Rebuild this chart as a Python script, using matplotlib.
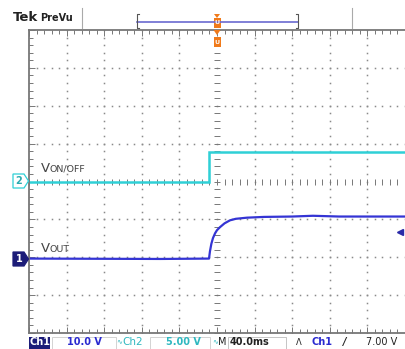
import numpy as np
import matplotlib
matplotlib.use("Agg")
import matplotlib.pyplot as plt
from matplotlib.patches import Polygon, Rectangle
from matplotlib.lines import Line2D

# ---------------- data ----------------
# time in ms relative to trigger (40 ms/div, 10 divisions)
t_on = [-200, -8.5, -8.5, 200]
v_on = [0.0, 0.0, 3.96, 3.96]          # Ch2, 5 V/div

t_out = [-200, -60, -8.5, -7.5, -6, -4.3, -2, 0, 3.2, 8, 13.8, 20, 31.9, 50, 80, 102, 130, 200]
v_out = [0.1, 0.0, 0.1, 2.0, 4.0, 5.5, 6.8, 7.6, 8.4, 9.4, 10.2, 10.6, 10.9, 11.1, 11.2, 11.4, 11.2, 11.2]  # Ch1, 10 V/div

ch1_scale = 10.0   # V/div
ch2_scale = 5.0    # V/div
time_scale = 40.0  # ms/div
trig_level = 7.0   # V
ch1_offset = -2.045  # div
ch2_offset = 0.0     # div

status = ["Ch1", "10.0 V", "Ch2", "5.00 V", "M", "40.0ms", "A", "Ch1", "7.00 V"]

# ---------------- figure ----------------
W, H = 405, 349
fig = plt.figure(figsize=(W / 100, H / 100), dpi=100)
fig.patch.set_facecolor("white")

def P(x, y):
    return (x / W, 1 - y / H)

L, R, T, B = 29, 405, 30, 333
ax = fig.add_axes([L / W, 1 - B / H, (R - L) / W, (B - T) / H])
ax.set_xlim(-5, 5)
ax.set_ylim(-4, 4)

gc = "#8a8a8a"
# dotted graticule
for k in range(-4, 5):
    if k == 0:
        continue
    yy = np.arange(-4, 4.01, 0.2)
    ax.plot(np.full_like(yy, k), yy, ls="none", marker="s", ms=1.1, color=gc, mec="none")
for k in range(-3, 4):
    if k == 0:
        continue
    xx = np.arange(-5, 5.01, 0.2)
    ax.plot(xx, np.full_like(xx, k), ls="none", marker="s", ms=1.1, color=gc, mec="none")
# centre cross with ticks
xx = np.arange(-5, 5.01, 0.2)
ax.plot(xx, np.zeros_like(xx), ls="none", marker="|", ms=4, mew=0.7, color="#777777")
yy = np.arange(-4, 4.01, 0.2)
ax.plot(np.zeros_like(yy), yy, ls="none", marker="_", ms=4, mew=0.7, color="#777777")

for s in ["left", "top", "bottom"]:
    ax.spines[s].set_color("#777777")
    ax.spines[s].set_linewidth(1.3)
ax.spines["right"].set_visible(False)
ax.set_xticks(np.arange(-5, 5.01, 1))
ax.set_xticks(np.arange(-5, 5.01, 0.2), minor=True)
ax.set_yticks(np.arange(-4, 4.01, 1))
ax.set_yticks(np.arange(-4, 4.01, 0.2), minor=True)
ax.tick_params(which="both", direction="in", top=True, bottom=True, left=True, right=False,
               labelleft=False, labelbottom=False, color="#777777", width=0.7)
ax.tick_params(which="major", length=4)
ax.tick_params(which="minor", length=3)

# traces
c1 = "#3434d4"
c2 = "#2fd0d6"
x2 = np.array(t_on) / time_scale
y2 = np.array(v_on) / ch2_scale + ch2_offset
ax.plot(x2, y2, color=c2, lw=1.8, solid_joinstyle="miter")
ax.plot([x2[1], x2[2]], [y2[1], y2[2]], color=c2, lw=0.8)
x1 = np.array(t_out) / time_scale
y1 = np.array(v_out) / ch1_scale + ch1_offset
ax.plot(x1, y1, color=c1, lw=1.6)

# trigger level marker on right
ty = trig_level / ch1_scale + ch1_offset
ax.plot([4.86], [ty], marker="<", ms=4, color="#2a2aa8", clip_on=False)

# trace labels
tc = "#444444"
fig.text(*P(41, 172), "V", fontsize=9.5, color=tc, ha="left", va="baseline")
fig.text(*P(50, 172), "ON/OFF", fontsize=6.8, color=tc, ha="left", va="baseline")
fig.text(*P(41, 252), "V", fontsize=9.5, color=tc, ha="left", va="baseline")
fig.text(*P(50, 252), "OUT", fontsize=6.8, color=tc, ha="left", va="baseline")

# channel ground markers
def marker(y, face, edge, label, tcol):
    pts = [P(13, y - 7), P(24, y - 7), P(28.5, y), P(24, y + 7), P(13, y + 7)]
    fig.patches.append(Polygon(pts, closed=True, transform=fig.transFigure,
                               facecolor=face, edgecolor=edge, lw=0.9))
    fig.text(*P(19, y + 0.5), label, fontsize=7, color=tcol, ha="center", va="center",
             fontweight="bold")

marker(181, "white", c2, "2", "#2aaab0")
marker(259, "#1c1c78", "#1c1c78", "1", "white")

# ---------------- top bar ----------------
fig.text(*P(13, 21), "Tek", fontsize=9.5, fontweight="bold", color="#222222", va="baseline")
fig.text(*P(40, 21), "PreVu", fontsize=7, fontweight="bold", color="#222222", va="baseline")
for xs in [82, 352]:
    fig.lines.append(Line2D([xs / W, xs / W], [1 - 8 / H, 1 - 28 / H], transform=fig.transFigure,
                            color="#aaaaaa", lw=0.8))
fig.lines.append(Line2D([137 / W, 298 / W], [1 - 22 / H, 1 - 22 / H], transform=fig.transFigure,
                        color="#6a6ad0", lw=1.2))
for xs, d in [(137, 1), (298, -1)]:
    fig.lines.append(Line2D([(xs + 2 * d) / W, xs / W, xs / W, (xs + 2 * d) / W],
                            [1 - 14 / H, 1 - 14 / H, 1 - 28 / H, 1 - 28 / H],
                            transform=fig.transFigure, color="#555555", lw=0.8))
oc = "#f07a1a"
# orange trigger-position markers
fig.patches.append(Polygon([P(214, 14), P(220, 14), P(217, 18)], closed=True,
                           transform=fig.transFigure, facecolor=oc, edgecolor="none"))
fig.patches.append(Rectangle(P(213.5, 28), 7 / W, 10 / H, transform=fig.transFigure,
                             facecolor=oc, edgecolor="none"))
fig.patches.append(Polygon([P(213.5, 30), P(220.5, 30), P(217, 35)], closed=True,
                           transform=fig.transFigure, facecolor=oc, edgecolor="none"))
fig.patches.append(Rectangle(P(213.5, 47), 7 / W, 10 / H, transform=fig.transFigure,
                             facecolor=oc, edgecolor="none"))
fig.text(*P(217, 42), "U", fontsize=4.5, color="white", ha="center", va="center", fontweight="bold")
fig.text(*P(217, 23), "U", fontsize=4.5, color="white", ha="center", va="center", fontweight="bold")

# ---------------- bottom status bar ----------------
yb = 345
fs = 7
fig.patches.append(Rectangle(P(29, 349), 21 / W, 12 / H, transform=fig.transFigure,
                             facecolor="#1c1c78", edgecolor="none"))
fig.text(*P(39.5, yb), status[0], fontsize=fs, color="white", ha="center", va="baseline", fontweight="bold")
fig.patches.append(Rectangle(P(52, 349), 64 / W, 12 / H, transform=fig.transFigure,
                             facecolor="none", edgecolor="#cccccc", lw=0.6))
fig.text(*P(67, yb), status[1], fontsize=fs, color="#2a2ad0", ha="left", va="baseline", fontweight="bold")
fig.text(*P(116, yb - 2), "\u223f", fontsize=5, color="#2fb8c0", ha="left", va="baseline")
fig.text(*P(122, yb), status[2], fontsize=7.5, color="#2fb8c0", ha="left", va="baseline")
fig.patches.append(Rectangle(P(150, 349), 60 / W, 12 / H, transform=fig.transFigure,
                             facecolor="none", edgecolor="#cccccc", lw=0.6))
fig.text(*P(166, yb), status[3], fontsize=fs, color="#2fb8c0", ha="left", va="baseline", fontweight="bold")
fig.text(*P(212, yb - 2), "\u223f", fontsize=5, color="#2fb8c0", ha="left", va="baseline")
fig.text(*P(218, yb), status[4], fontsize=fs, color="#222222", ha="left", va="baseline")
fig.patches.append(Rectangle(P(228, 349), 58 / W, 12 / H, transform=fig.transFigure,
                             facecolor="none", edgecolor="#bbbbbb", lw=0.6))
fig.text(*P(230, yb), status[5], fontsize=fs, color="#222222", ha="left", va="baseline", fontweight="bold")
fig.text(*P(296, yb), "\u039b", fontsize=6, color="#222222", ha="left", va="baseline")
fig.text(*P(312, yb), status[7], fontsize=fs, color="#2a2ad0", ha="left", va="baseline", fontweight="bold")
fig.text(*P(343, yb), "/", fontsize=fs, color="#222222", ha="left", va="baseline", style="italic", fontweight="bold")
fig.text(*P(366, yb), status[8], fontsize=fs, color="#222222", ha="left", va="baseline")

fig.savefig("out.png", dpi=100)
